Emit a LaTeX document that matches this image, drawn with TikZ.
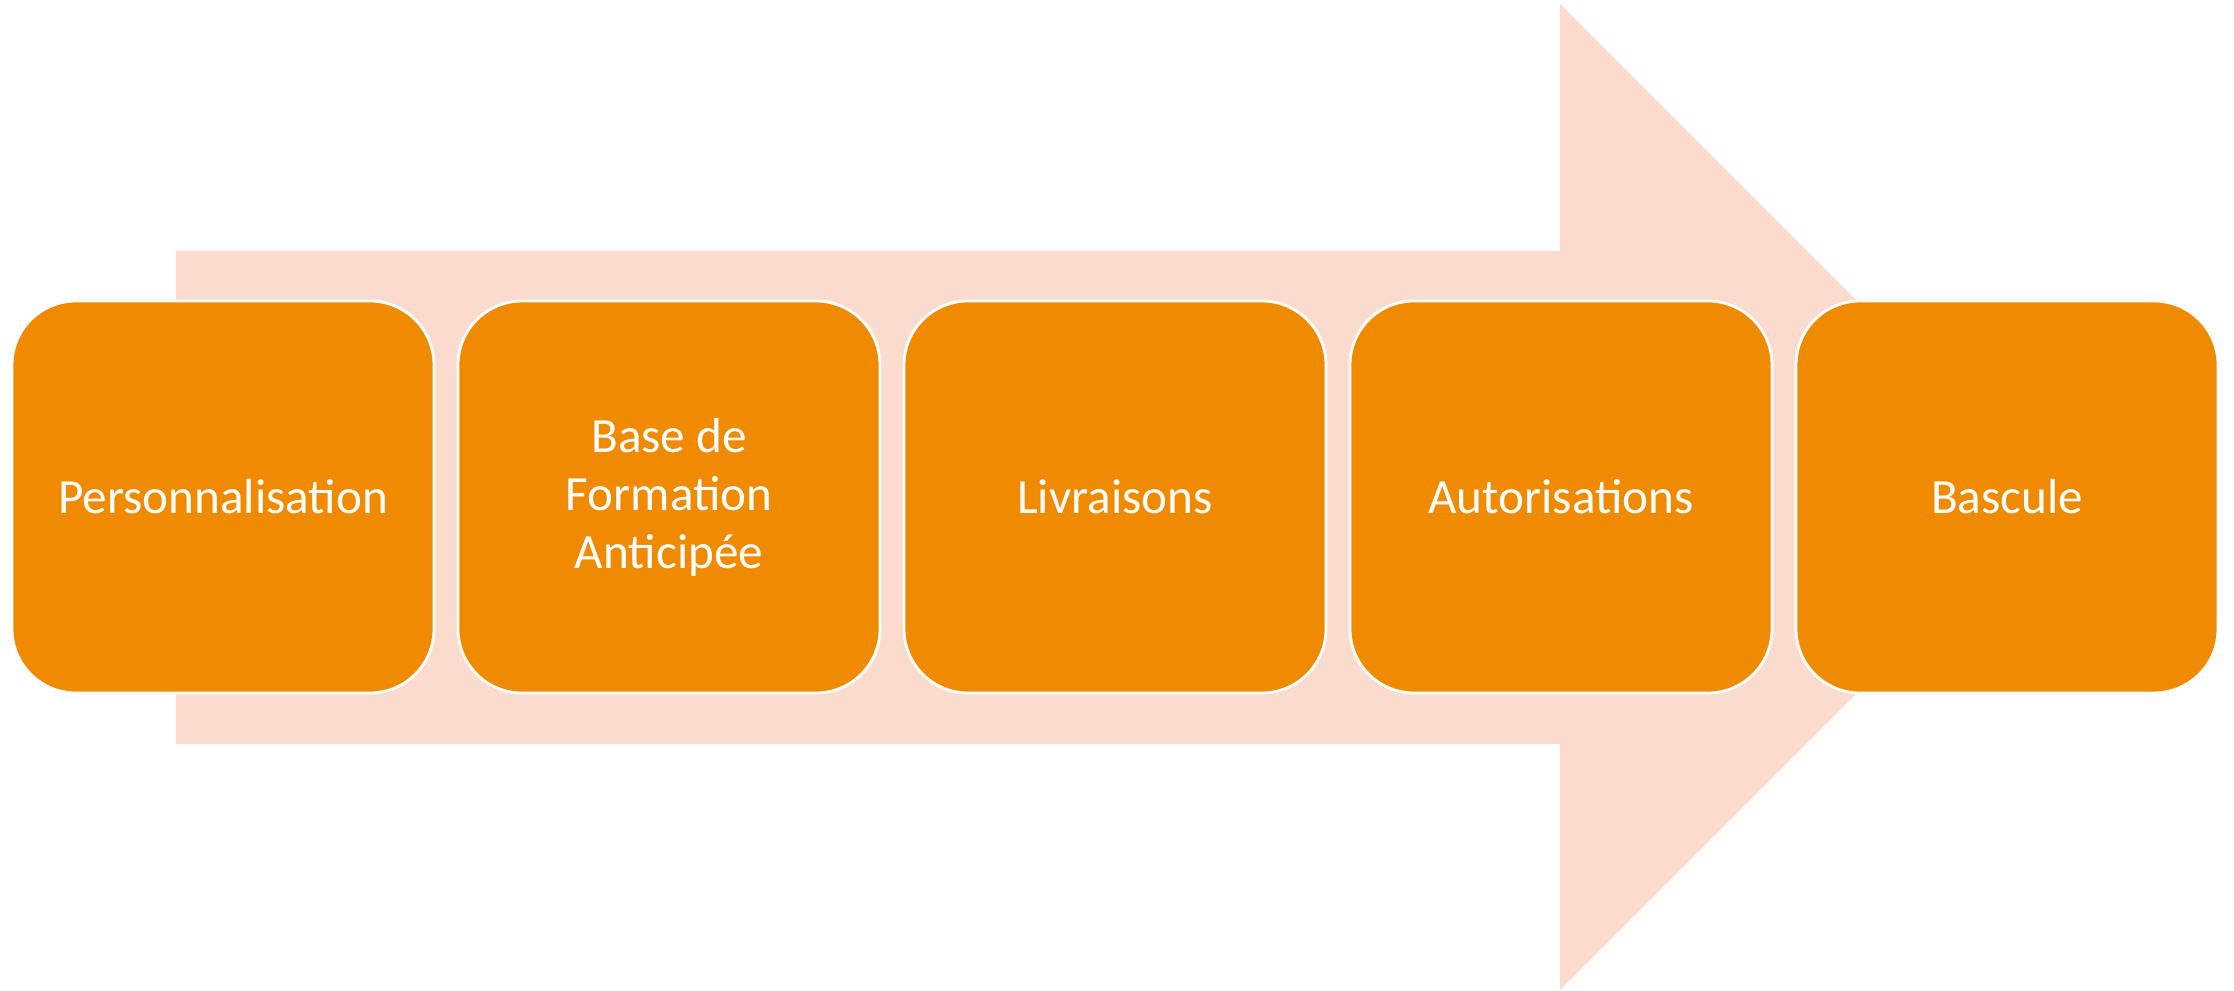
\documentclass[tikz,border=0pt]{standalone}
\usepackage{fontspec}
\setmainfont{Carlito}
\usetikzlibrary{positioning}
\definecolor{etapeorange}{RGB}{240,138,0}
\definecolor{flechefond}{RGB}{250,219,205}

\tikzset{
  etape/.style={draw=white, line width=0.8pt, fill=etapeorange, text=white,
    rounded corners=0.64cm, minimum width=4.22cm, minimum height=3.92cm,
    inner sep=0pt, outer sep=0pt, align=center,
    font=\fontsize{14}{16.5}\selectfont}
}

\begin{document}
\begin{tikzpicture}
        \useasboundingbox (0,0) rectangle (22.34,9.90);
        \fill[flechefond] (1.76,2.46) -- (15.60,2.46) -- (15.60,0.00) -- (20.53,4.93)
          -- (15.60,9.86) -- (15.60,7.39) -- (1.76,7.39) -- cycle;

        \node[etape] (perso) at (2.23,4.93) {Personnalisation};
        \node[etape, right=0.24cm of perso] (bfa) {Base de\\Formation\\Anticipée};
        \node[etape, right=0.24cm of bfa] (livr) {Livraisons};
        \node[etape, right=0.24cm of livr] (autor) {Autorisations};
        \node[etape, right=0.24cm of autor] (bascule) {Bascule};
      \end{tikzpicture}
\end{document}
